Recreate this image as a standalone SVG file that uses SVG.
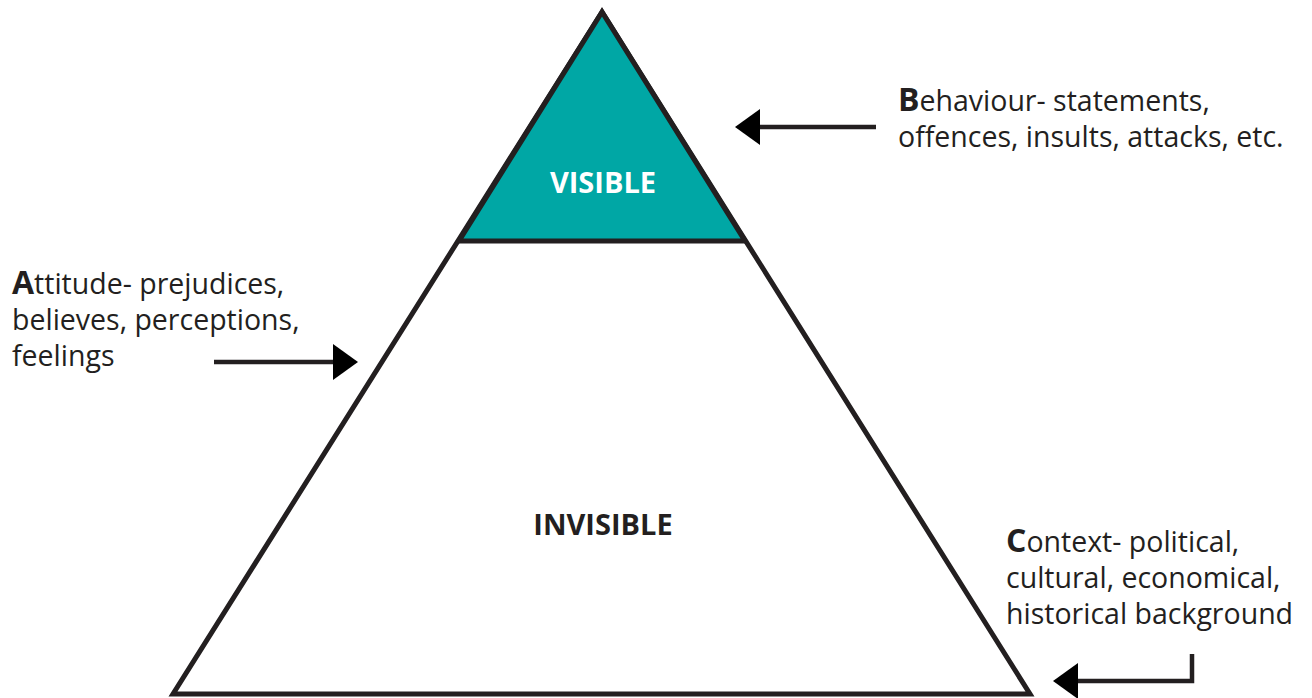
<svg xmlns="http://www.w3.org/2000/svg" width="1312" height="698" viewBox="0 0 1312 698">
<style>
.lbl{font-family:"Open Sans","Noto Sans",sans-serif;font-size:28.5px;fill:#231f20}
.cap{font-weight:bold;font-size:32px}
.tt{font-family:"Open Sans","Noto Sans",sans-serif;font-size:29px;font-weight:bold;text-anchor:middle}
.edge{stroke:#231f20;stroke-width:4.5;fill:none}
.head{fill:#000}
</style>
<rect width="1312" height="698" fill="#fff"/>
<g id="pyramid">
<polygon points="602,12 173,694 1030,694" fill="#fff" stroke="#231f20" stroke-width="5" stroke-linejoin="miter"/>
<polygon points="602,12 459,241 745,241" fill="#00a7a5" stroke="#231f20" stroke-width="5"/>
<text class="tt" x="603" y="193" fill="#fff">VISIBLE</text>
<text class="tt" x="603" y="535" fill="#231f20">INVISIBLE</text>
</g>
<g id="behaviour">
<text class="lbl" x="898" y="111"><tspan class="cap">B</tspan>ehaviour- statements,</text>
<text class="lbl" x="898" y="147">offences, insults, attacks, etc.</text>
</g>
<g id="attitude">
<text class="lbl" x="12" y="294"><tspan class="cap">A</tspan>ttitude- prejudices,</text>
<text class="lbl" x="12" y="330">believes, perceptions,</text>
<text class="lbl" x="12" y="366">feelings</text>
</g>
<g id="context">
<text class="lbl" x="1006" y="552"><tspan class="cap">C</tspan>ontext- political,</text>
<text class="lbl" x="1006" y="588">cultural, economical,</text>
<text class="lbl" x="1006" y="624">historical background</text>
</g>
<g id="connectors">
<line class="edge" x1="876" y1="127" x2="758" y2="127"/>
<polygon class="head" points="735,127 760,109 760,145"/>
<line class="edge" x1="214" y1="362" x2="335" y2="362"/>
<polygon class="head" points="358,362 333,344 333,380"/>
<polyline class="edge" points="1192,654 1192,681 1076,681"/>
<polygon class="head" points="1053,681 1078,663 1078,699"/>
</g>
</svg>
